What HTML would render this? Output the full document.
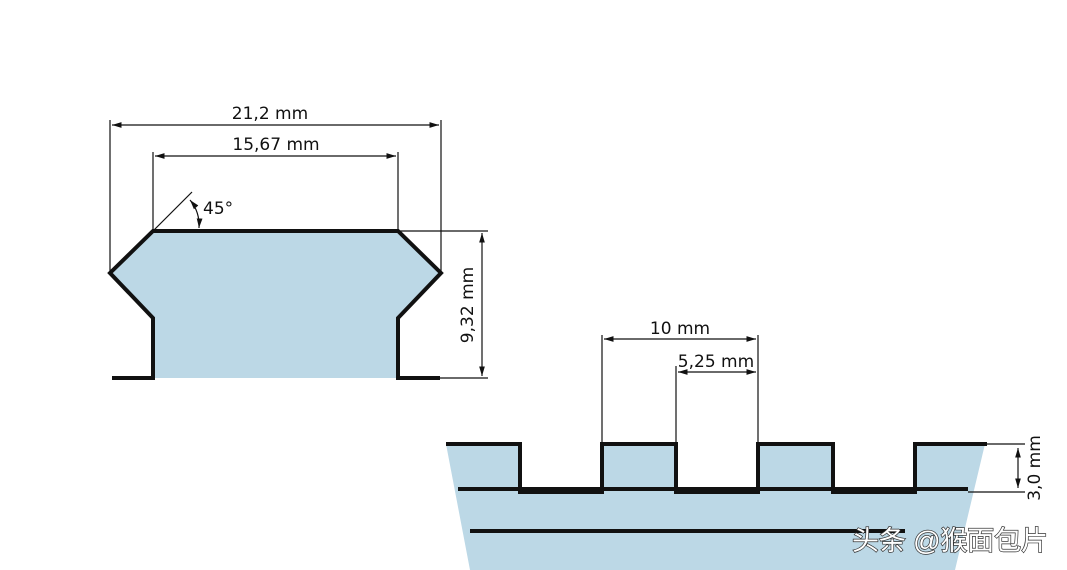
<!DOCTYPE html>
<html><head><meta charset="utf-8"><style>
html,body{margin:0;padding:0;background:#fff;width:1067px;height:570px;overflow:hidden}
svg{display:block}
text{font-family:"DejaVu Sans","Liberation Sans",sans-serif;fill:#111}
</style></head><body>
<svg width="1067" height="570" viewBox="0 0 1067 570" xmlns="http://www.w3.org/2000/svg">
<defs>
<marker id="a" viewBox="0 0 10 10" refX="10" refY="5" markerWidth="8" markerHeight="8" orient="auto-start-reverse"><path d="M0,2 L10,5 L0,8 z" fill="#111"/></marker>
</defs>
<polygon points="110,273 153,231 398,231 441,273 398,318 398,378 153,378 153,318" fill="#bcd8e6"/>
<polyline points="112,378 153,378 153,318 110,273 153,231 398,231 441,273 398,318 398,378 440,378" fill="none" stroke="#111" stroke-width="4" stroke-linejoin="miter"/>
<g stroke="#111" stroke-width="1.2" fill="none">
<line x1="110" y1="120" x2="110" y2="273"/>
<line x1="441" y1="120" x2="441" y2="273"/>
<line x1="112" y1="125" x2="439" y2="125" marker-start="url(#a)" marker-end="url(#a)"/>
<line x1="153" y1="152" x2="153" y2="231"/>
<line x1="398" y1="152" x2="398" y2="231"/>
<line x1="155" y1="156" x2="396" y2="156" marker-start="url(#a)" marker-end="url(#a)"/>
<line x1="153" y1="231" x2="192" y2="192"/>
<path d="M190,200 Q200,212 199,228" marker-start="url(#a)" marker-end="url(#a)"/>
<line x1="400" y1="231" x2="488" y2="231"/>
<line x1="440" y1="378" x2="488" y2="378"/>
<line x1="482" y1="233" x2="482" y2="376" marker-start="url(#a)" marker-end="url(#a)"/>
</g>
<text x="270" y="119" font-size="17" text-anchor="middle">21,2 mm</text>
<text x="276" y="150" font-size="17" text-anchor="middle">15,67 mm</text>
<text x="203" y="214" font-size="17">45°</text>
<text transform="translate(473,305) rotate(-90)" font-size="17" text-anchor="middle">9,32 mm</text>
<polygon points="446,444 520,444 520,489 602,489 602,444 676,444 676,489 758,489 758,444 833,444 833,489 915,489 915,444 985,444 955,570 470,570" fill="#bcd8e6"/>
<rect x="520" y="446" width="82" height="43" fill="#fff"/>
<rect x="676" y="446" width="82" height="43" fill="#fff"/>
<rect x="833" y="446" width="82" height="43" fill="#fff"/>
<g stroke="#111" stroke-width="4" fill="none">
<polyline points="446,444 520,444 520,492 602,492 602,444 676,444 676,492 758,492 758,444 833,444 833,492 915,492 915,444 987,444"/>
<line x1="458" y1="489" x2="968" y2="489"/>
<line x1="470" y1="531" x2="905" y2="531"/>
</g>
<g stroke="#111" stroke-width="1.2" fill="none">
<line x1="602" y1="335" x2="602" y2="444"/>
<line x1="758" y1="335" x2="758" y2="444"/>
<line x1="604" y1="339" x2="756" y2="339" marker-start="url(#a)" marker-end="url(#a)"/>
<line x1="676" y1="366" x2="676" y2="444"/>
<line x1="678" y1="372" x2="756" y2="372" marker-start="url(#a)" marker-end="url(#a)"/>
<line x1="987" y1="444" x2="1025" y2="444"/>
<line x1="968" y1="492" x2="1025" y2="492"/>
<line x1="1018" y1="448" x2="1018" y2="488" marker-start="url(#a)" marker-end="url(#a)"/>
</g>
<text x="680" y="334" font-size="17" text-anchor="middle">10 mm</text>
<text x="716" y="367" font-size="17" text-anchor="middle">5,25 mm</text>
<text transform="translate(1040,468) rotate(-90)" font-size="17" text-anchor="middle">3,0 mm</text>
<text x="852" y="550" font-size="27" textLength="196" style="font-family:'Liberation Sans','Noto Sans CJK SC',sans-serif;fill:#fff;stroke:#333;stroke-width:1.4;paint-order:stroke">头条 @猴面包片</text>
</svg>
</body></html>
